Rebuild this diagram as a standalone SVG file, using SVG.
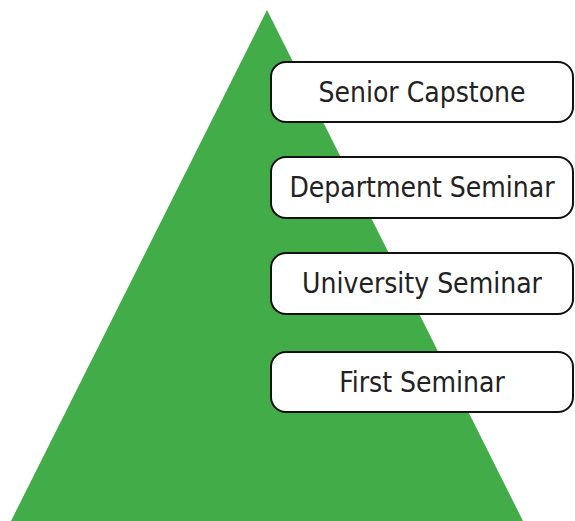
<svg xmlns="http://www.w3.org/2000/svg" width="575" height="521" viewBox="0 0 575 521">
<style>
.box{fill:#fff;stroke:#111;stroke-width:2}
.lbl{font-family:"DejaVu Sans Condensed","DejaVu Sans",sans-serif;font-stretch:condensed;font-size:28px;fill:#222;text-anchor:middle}
</style>
<rect width="575" height="521" fill="#fff"/>
<g id="pyramid"><polygon points="267,10 523,521 11,521" fill="#42AC49"/></g>
<g id="connectors"></g>
<g id="senior-capstone"><rect class="box" x="271" y="62" width="302" height="60" rx="15"/><text class="lbl" x="422" y="102">Senior Capstone</text></g>
<g id="department-seminar"><rect class="box" x="271" y="157" width="302" height="61" rx="15"/><text class="lbl" x="422" y="197">Department Seminar</text></g>
<g id="university-seminar"><rect class="box" x="271" y="253" width="302" height="61" rx="15"/><text class="lbl" x="422" y="293">University Seminar</text></g>
<g id="first-seminar"><rect class="box" x="271" y="352" width="302" height="60" rx="15"/><text class="lbl" x="422" y="392">First Seminar</text></g>
</svg>
